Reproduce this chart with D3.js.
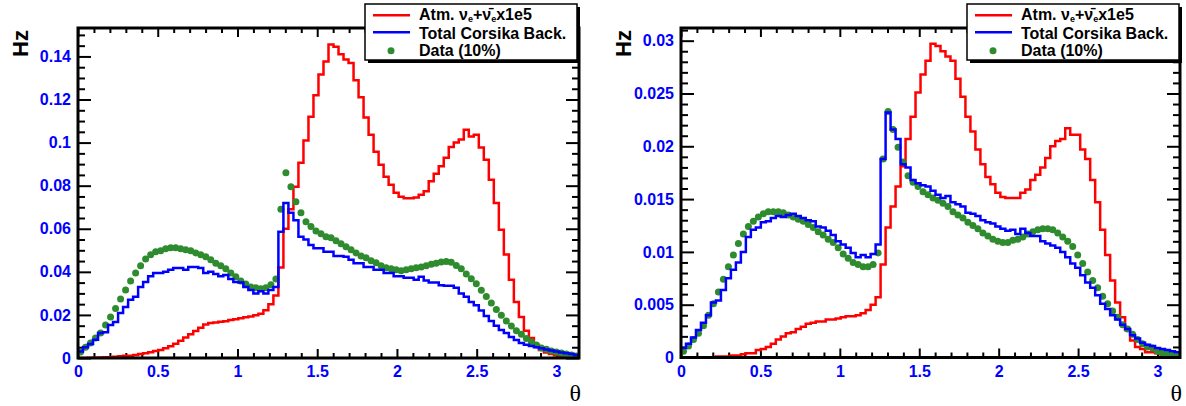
<!DOCTYPE html>
<html><head><meta charset="utf-8">
<script src="https://cdn.jsdelivr.net/npm/d3@7"></script>
<style>body{margin:0;background:#fff}svg{display:block}</style>
</head><body><svg id="c" width="1186" height="406"></svg>
<script>
// ---------------- data ----------------
const nBins = 100;
const thetaMax = Math.PI;
const xTicks = [0, 0.5, 1, 1.5, 2, 2.5, 3];
const leftYTicks = [0, 0.02, 0.04, 0.06, 0.08, 0.1, 0.12, 0.14];
const rightYTicks = [0, 0.005, 0.01, 0.015, 0.02, 0.025, 0.03];
const seriesNames = ["Atm. ν_e+ν̄_e x1e5", "Total Corsika Back.", "Data (10%)"];
const yTitle = "Hz";
const xTitle = "θ";

const leftAtm = [
 0,0,0.0001,0.0001,0.0002,0.0003,0.0004,0.0006,0.0008,0.001,
 0.0011,0.0014,0.0018,0.0022,0.0027,0.0032,0.0037,0.0045,0.0055,0.0066,
 0.008,0.0095,0.011,0.0125,0.014,0.0155,0.0163,0.0165,0.0168,0.0171,
 0.0176,0.018,0.0185,0.0189,0.0193,0.0198,0.0205,0.0222,0.025,0.029,
 0.042,0.06,0.069,0.0795,0.0906,0.101,0.112,0.122,0.1316,0.1376,
 0.1455,0.1445,0.141,0.1386,0.137,0.129,0.121,0.1116,0.1037,0.0958,
 0.0897,0.0842,0.0804,0.0767,0.0749,0.0742,0.0742,0.0745,0.0758,0.0774,
 0.082,0.0855,0.089,0.093,0.098,0.1,0.1014,0.106,0.1028,0.1037,
 0.0977,0.092,0.0828,0.072,0.0595,0.048,0.0363,0.026,0.019,0.0126,
 0.0093,0.006,0.0037,0.0025,0.0018,0.0013,0.0009,0.0006,0.0004,0.0003];
const leftCorsika = [
 0.003,0.005,0.0065,0.0085,0.0116,0.012,0.0153,0.0167,0.0209,0.0237,
 0.027,0.0284,0.033,0.0353,0.038,0.0395,0.0395,0.04,0.041,0.0418,
 0.0418,0.041,0.0423,0.0423,0.0418,0.0395,0.04,0.039,0.038,0.0385,
 0.0367,0.0353,0.035,0.033,0.0316,0.03,0.031,0.03,0.0316,0.033,
 0.0586,0.072,0.0674,0.064,0.0563,0.055,0.0525,0.051,0.051,0.0493,
 0.0493,0.0474,0.0474,0.047,0.0456,0.044,0.044,0.0423,0.0423,0.041,
 0.041,0.0395,0.0395,0.038,0.038,0.0372,0.0372,0.0363,0.0377,0.036,
 0.035,0.035,0.0338,0.0335,0.0335,0.0326,0.03,0.0284,0.026,0.0245,
 0.022,0.0195,0.0172,0.015,0.013,0.0116,0.0098,0.0084,0.007,0.0062,
 0.0056,0.005,0.0045,0.004,0.0035,0.003,0.0026,0.0022,0.0018,0.0014];
const leftData = [
 0.0028,0.005,0.007,0.0093,0.0116,0.0153,0.019,0.023,0.0274,0.0316,
 0.0358,0.0395,0.0428,0.046,0.0479,0.0493,0.0498,0.0507,0.0512,0.0512,
 0.0507,0.0502,0.0498,0.0488,0.0479,0.047,0.0456,0.044,0.0428,0.0414,
 0.0395,0.0377,0.0358,0.0344,0.033,0.0326,0.0322,0.0326,0.034,0.0367,
 0.069,0.086,0.0795,0.0725,0.0674,0.0632,0.061,0.059,0.0577,0.0563,
 0.0558,0.0544,0.053,0.0516,0.0502,0.0488,0.0474,0.0465,0.0451,0.0442,
 0.0428,0.0419,0.0414,0.041,0.0405,0.041,0.0414,0.0419,0.0423,0.0428,
 0.0435,0.044,0.0446,0.0448,0.0444,0.043,0.0414,0.039,0.0368,0.0345,
 0.0315,0.0285,0.0255,0.0225,0.0198,0.0172,0.0148,0.0127,0.011,0.0091,
 0.0074,0.006,0.0047,0.0041,0.0033,0.0028,0.0023,0.0019,0.0014,0.0009];

const rightAtm = [
 0,0,0,0,0,0,0,0.0001,0.0001,0.0001,
 0.0002,0.0002,0.0003,0.0004,0.0004,0.0007,0.0008,0.001,0.0013,0.0017,
 0.002,0.0023,0.0024,0.0027,0.0029,0.0032,0.0033,0.0034,0.0034,0.0036,
 0.0036,0.0037,0.0038,0.0039,0.0039,0.004,0.0042,0.0045,0.005,0.0057,
 0.0088,0.0123,0.0143,0.0162,0.0181,0.0207,0.0228,0.0251,0.0268,0.0281,
 0.0297,0.0295,0.029,0.0285,0.0281,0.0264,0.0247,0.0228,0.0214,0.0197,
 0.0183,0.0171,0.0164,0.0156,0.0152,0.0151,0.0151,0.0151,0.0156,0.0159,
 0.0168,0.0173,0.018,0.0189,0.02,0.0205,0.0207,0.0217,0.0211,0.0211,
 0.0197,0.0188,0.0168,0.0147,0.0121,0.0097,0.0073,0.0052,0.0038,0.0026,
 0.0016,0.001,0.0008,0.0005,0.0005,0.0004,0.0003,0.0002,0.0002,0.0001];
const rightCorsika = [
 0.0009,0.0013,0.0019,0.0026,0.0033,0.004,0.0052,0.0054,0.0064,0.0075,
 0.0083,0.009,0.01,0.0114,0.0121,0.0123,0.0128,0.0129,0.0132,0.0134,
 0.0133,0.0135,0.0136,0.0134,0.0132,0.013,0.0129,0.0124,0.0123,0.012,
 0.0116,0.011,0.0107,0.0104,0.0099,0.0095,0.0097,0.0095,0.0098,0.0107,
 0.0188,0.0232,0.0216,0.0207,0.0183,0.018,0.0168,0.0165,0.0163,0.0162,
 0.0158,0.0154,0.0151,0.0153,0.0147,0.0145,0.0143,0.0137,0.0136,0.0134,
 0.013,0.0128,0.0127,0.0124,0.0122,0.012,0.0121,0.0117,0.0122,0.0118,
 0.0115,0.0115,0.011,0.0108,0.0106,0.0104,0.01,0.0095,0.0089,0.0085,
 0.0078,0.0071,0.0066,0.0059,0.0051,0.0046,0.004,0.0036,0.0031,0.0027,
 0.0021,0.0018,0.0014,0.0012,0.0011,0.0009,0.0008,0.0007,0.0006,0.0005];
const rightData = [
 0.0006,0.0011,0.0017,0.0023,0.003,0.004,0.0051,0.0062,0.0074,0.0086,
 0.0097,0.0108,0.0117,0.0124,0.0129,0.0133,0.0136,0.0138,0.0138,0.0138,
 0.0137,0.0135,0.0133,0.0131,0.0129,0.0126,0.0123,0.0119,0.0116,0.0112,
 0.0109,0.0104,0.0098,0.0094,0.009,0.0088,0.0086,0.0086,0.0088,0.0099,
 0.0188,0.0233,0.0216,0.0199,0.0185,0.0172,0.0166,0.0162,0.0157,0.0154,
 0.0151,0.0149,0.0146,0.0143,0.0138,0.0135,0.0132,0.0128,0.0125,0.0122,
 0.0118,0.0115,0.0112,0.011,0.0109,0.0109,0.0111,0.0112,0.0114,0.0117,
 0.0119,0.0121,0.0122,0.0122,0.0121,0.0118,0.0114,0.011,0.0105,0.0097,
 0.0089,0.0081,0.0073,0.0066,0.0058,0.0051,0.0044,0.0038,0.0031,0.0027,
 0.0022,0.0017,0.0013,0.001,0.0009,0.0006,0.0004,0.0003,0.0002,0.0001];

// ---------------- layout ----------------
const colors = {atm: "#ff0000", cors: "#0000ff", data: "#2e8b2e"};
const panels = [
  {atm: leftAtm, cors: leftCorsika, data: leftData, yMax: 0.1532, yTicks: leftYTicks, yMinor: 0.005,
   x0: 78, x1: 579, top: 28, bottom: 358, hzX: 20, legX: 365},
  {atm: rightAtm, cors: rightCorsika, data: rightData, yMax: 0.0312, yTicks: rightYTicks, yMinor: 0.001,
   x0: 681, x1: 1180, top: 28, bottom: 357.5, hzX: 623, legX: 967}
];

const svg = d3.select("#c");
svg.append("rect").attr("width", 1186).attr("height", 406).attr("fill", "#fff");
const binWidth = thetaMax / nBins;
const edges = d3.range(nBins + 1).map(i => i * binWidth);
const fmt = v => v === 0 ? "0" : String(+v.toFixed(4));
const labelFont = "bold 16px 'Liberation Sans', Arial, sans-serif";

panels.forEach((p, pi) => {
  const x = d3.scaleLinear().domain([0, thetaMax]).range([p.x0, p.x1]);
  const y = d3.scaleLinear().domain([0, p.yMax]).range([p.bottom, p.top]);
  const g = svg.append("g");

  const clipId = "clip" + pi;
  svg.append("clipPath").attr("id", clipId).append("rect")
    .attr("x", p.x0).attr("y", p.top).attr("width", p.x1 - p.x0).attr("height", p.bottom - p.top);

  const minorX = d3.range(0, thetaMax, 0.1).filter(v => Math.abs(v / 0.5 - Math.round(v / 0.5)) > 1e-6);
  const minorY = d3.range(0, p.yMax, p.yMinor).filter(v => !p.yTicks.some(t => Math.abs(t - v) < 1e-9));

  function styleAxis(sel) {
    sel.select(".domain").remove();
    sel.selectAll(".tick line").attr("stroke", "#000").attr("stroke-width", 2);
    sel.selectAll("text").style("font", labelFont).attr("fill", "#0000ff");
  }
  // bottom axis
  g.append("g").attr("transform", `translate(0,${p.bottom})`)
    .call(d3.axisBottom(x).tickValues(xTicks).tickSize(-9).tickPadding(8).tickFormat(fmt)).call(styleAxis);
  g.append("g").attr("transform", `translate(0,${p.bottom})`)
    .call(d3.axisBottom(x).tickValues(minorX).tickSize(-5).tickFormat("")).call(styleAxis);
  // top axis
  g.append("g").attr("transform", `translate(0,${p.top})`)
    .call(d3.axisTop(x).tickValues(xTicks).tickSize(-9).tickFormat("")).call(styleAxis);
  g.append("g").attr("transform", `translate(0,${p.top})`)
    .call(d3.axisTop(x).tickValues(minorX).tickSize(-5).tickFormat("")).call(styleAxis);
  // left axis
  g.append("g").attr("transform", `translate(${p.x0},0)`)
    .call(d3.axisLeft(y).tickValues(p.yTicks).tickSize(-13).tickPadding(7).tickFormat(fmt)).call(styleAxis);
  g.append("g").attr("transform", `translate(${p.x0},0)`)
    .call(d3.axisLeft(y).tickValues(minorY).tickSize(-7).tickFormat("")).call(styleAxis);
  // right axis
  g.append("g").attr("transform", `translate(${p.x1},0)`)
    .call(d3.axisRight(y).tickValues(p.yTicks).tickSize(-13).tickFormat("")).call(styleAxis);
  g.append("g").attr("transform", `translate(${p.x1},0)`)
    .call(d3.axisRight(y).tickValues(minorY).tickSize(-7).tickFormat("")).call(styleAxis);

  // histograms
  const step = d3.line().curve(d3.curveStepAfter).x(d => x(d[0])).y(d => y(d[1]));
  const hist = vals => edges.map((e, i) => [e, vals[Math.min(i, nBins - 1)]]);
  const plot = g.append("g").attr("clip-path", `url(#${clipId})`);
  plot.append("path").attr("d", step(hist(p.atm))).attr("fill", "none")
    .attr("stroke", colors.atm).attr("stroke-width", 2.5);
  plot.selectAll("circle.data").data(p.data).join("circle")
    .attr("cx", (d, i) => x((i + 0.5) * binWidth)).attr("cy", d => y(d)).attr("r", 3.5)
    .attr("fill", colors.data);
  plot.append("path").attr("d", step(hist(p.cors))).attr("fill", "none")
    .attr("stroke", colors.cors).attr("stroke-width", 2.5);

  // frame
  g.append("rect").attr("x", p.x0).attr("y", p.top).attr("width", p.x1 - p.x0).attr("height", p.bottom - p.top)
    .attr("fill", "none").attr("stroke", "#000").attr("stroke-width", 3);

  // titles
  g.append("text").attr("transform", `translate(${p.hzX},43.5) rotate(-90)`)
    .attr("text-anchor", "middle").attr("dy", "0.35em")
    .style("font", "bold 22px 'Liberation Sans', Arial, sans-serif").text(yTitle);
  g.append("text").attr("x", p.x1 + 2).attr("y", 401).attr("text-anchor", "end")
    .style("font", "24px 'Liberation Serif', 'Times New Roman', serif").text(xTitle);

  // legend
  const lg = g.append("g").attr("transform", `translate(${p.legX},4)`);
  const lw = 212, lh = 56;
  lg.append("rect").attr("x", 3).attr("y", 3).attr("width", lw).attr("height", lh).attr("fill", "#000");
  lg.append("rect").attr("x", 0).attr("y", 0).attr("width", lw).attr("height", lh)
    .attr("fill", "#fff").attr("stroke", "#000").attr("stroke-width", 1.5);
  const rows = [15.5, 34.5, 52];
  const marks = [11.2, 28.3, 46.8];
  [colors.atm, colors.cors].forEach((c, k) => {
    lg.append("line").attr("x1", 8).attr("x2", 45).attr("y1", marks[k]).attr("y2", marks[k])
      .attr("stroke", c).attr("stroke-width", 2.5);
  });
  lg.append("circle").attr("cx", 26).attr("cy", marks[2]).attr("r", 3.5).attr("fill", colors.data);
  const tf = "bold 16px 'Liberation Sans', Arial, sans-serif";
  // first entry with subscripts
  const t0 = lg.append("text").attr("x", 54).attr("y", rows[0]).style("font", tf);
  const parts = seriesNames[0].split(/_e/); // ["Atm. ν", "+ν̄", " x1e5"]
  t0.append("tspan").text(parts[0]);
  t0.append("tspan").attr("dy", 2.5).style("font-size", "9px").text("e");
  t0.append("tspan").attr("dy", -2.5).text(parts[1]);
  t0.append("tspan").attr("dy", 2.5).style("font-size", "9px").text("e");
  t0.append("tspan").attr("dy", -2.5).text(parts[2].trim());
  lg.append("text").attr("x", 54).attr("y", rows[1]).style("font", tf).text(seriesNames[1]);
  lg.append("text").attr("x", 54).attr("y", rows[2]).style("font", tf).text(seriesNames[2]);
});
</script>
</body></html>
